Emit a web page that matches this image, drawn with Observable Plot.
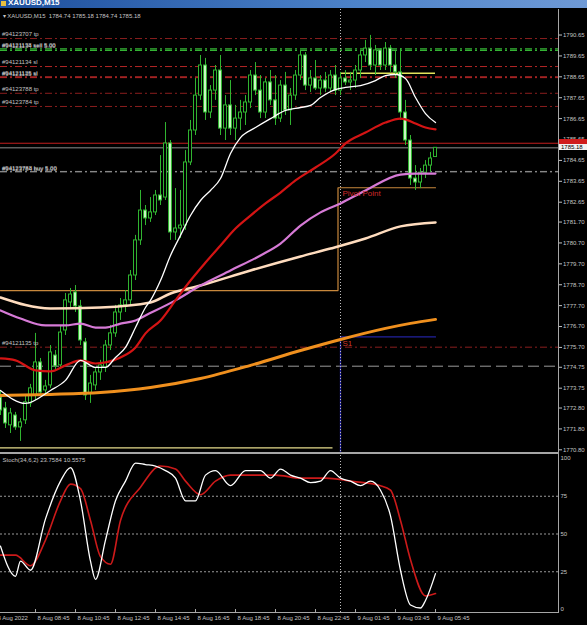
<!DOCTYPE html>
<html><head><meta charset="utf-8">
<script src="https://cdn.jsdelivr.net/npm/d3@7"></script>
<script src="https://cdn.jsdelivr.net/npm/@observablehq/plot@0.6"></script>
<style>
html,body{margin:0;padding:0;background:#000;overflow:hidden;}
#wrap{position:relative;width:587px;height:625px;background:#000;overflow:hidden;font-family:"Liberation Sans",Arial,sans-serif;}
.abs{position:absolute;}
svg{display:block;}
</style></head><body><div id="wrap"></div>
<script>
// ---------- data ----------
const symbolTitle = "XAUUSD,M15";
const infoLine = "\u25BE XAUUSD,M15  1784.74 1785.18 1784.74 1785.18";
const stochLabel = "Stoch(34,6,2) 23.7584 10.5575";

const opens = [1773.23,1772.71,1771.90,1772.37,1771.80,1772.14,1772.95,1773.33,1774.91,1773.57,
1773.81,1775.24,1774.77,1776.44,1777.78,1778.26,1777.59,1775.87,1773.43,1773.81,
1774.43,1774.67,1775.72,1776.30,1777.30,1777.64,1777.88,1779.07,1780.75,1782.18,
1781.80,1782.09,1782.90,1782.80,1785.39,1781.13,1781.32,1781.46,1784.48,1786.01,
1787.68,1789.12,1786.87,1787.92,1788.88,1786.10,1787.21,1786.10,1786.58,1786.87,
1787.35,1788.64,1787.92,1786.87,1788.31,1787.45,1786.58,1788.16,1786.97,1787.68,
1788.64,1789.60,1788.16,1788.50,1788.02,1788.40,1788.02,1788.64,1787.92,1788.50,
1788.31,1788.40,1788.88,1789.60,1789.93,1789.12,1789.84,1789.12,1789.93,1789.12,
1788.79,1786.87,1785.53,1783.71,1783.52,1783.99,1784.33,1784.74];
const highs = [1773.57,1773.00,1772.71,1772.52,1772.23,1773.33,1773.86,1776.30,1775.10,1774.05,
1775.72,1775.48,1776.63,1778.21,1778.45,1778.59,1777.88,1776.06,1774.29,1774.62,
1775.01,1775.96,1776.68,1777.64,1777.97,1778.35,1779.31,1780.99,1783.14,1782.42,
1782.80,1783.14,1784.81,1786.39,1785.53,1783.23,1783.14,1785.05,1786.49,1788.50,
1789.60,1789.46,1788.16,1789.12,1789.60,1787.68,1788.40,1787.21,1787.45,1787.68,
1788.88,1789.26,1788.64,1788.50,1788.88,1788.64,1788.40,1788.79,1788.02,1788.88,
1789.84,1789.74,1788.88,1789.36,1788.64,1788.79,1788.88,1789.12,1788.79,1788.88,
1788.79,1789.12,1789.84,1790.32,1790.56,1790.08,1789.93,1790.22,1790.08,1789.84,
1789.93,1787.45,1785.77,1784.33,1784.19,1784.57,1784.96,1785.18];
const lows = [1772.37,1771.75,1771.51,1771.66,1771.13,1771.94,1772.76,1773.09,1773.33,1773.33,
1773.67,1774.53,1774.62,1776.20,1777.49,1777.30,1775.72,1773.09,1772.95,1773.57,
1774.05,1774.43,1775.48,1776.11,1776.92,1777.30,1777.64,1778.83,1780.51,1781.46,
1781.61,1781.94,1782.42,1782.66,1780.75,1780.75,1780.84,1781.23,1784.33,1785.77,
1787.45,1786.49,1786.58,1787.45,1785.77,1785.53,1785.77,1785.53,1786.01,1786.25,
1787.06,1787.68,1786.58,1786.58,1787.21,1786.25,1786.39,1786.73,1786.25,1787.45,
1788.40,1787.92,1787.83,1787.92,1787.68,1787.83,1787.83,1787.68,1787.68,1788.16,
1787.92,1788.02,1788.50,1789.26,1788.88,1788.64,1788.88,1788.88,1788.79,1788.50,
1786.49,1785.29,1783.38,1783.14,1783.23,1783.71,1784.00,1784.74];
const closes = [1772.61,1771.99,1772.47,1771.80,1772.04,1773.00,1773.67,1774.91,1773.47,1773.76,
1775.39,1774.72,1776.34,1777.88,1778.16,1777.59,1775.96,1773.33,1773.90,1774.43,
1774.77,1775.72,1776.30,1777.30,1777.64,1777.88,1779.07,1780.75,1782.18,1781.80,
1782.09,1782.90,1782.66,1785.39,1781.13,1781.32,1781.46,1784.48,1786.01,1787.68,
1789.12,1786.87,1787.92,1788.88,1786.10,1787.21,1786.10,1786.58,1786.87,1787.35,
1788.64,1787.92,1786.87,1788.31,1787.45,1786.58,1788.16,1786.97,1787.68,1788.64,
1789.60,1788.16,1788.50,1788.02,1788.40,1788.02,1788.64,1787.92,1788.50,1788.31,
1788.40,1788.88,1789.60,1789.93,1789.12,1789.84,1789.12,1789.93,1789.12,1788.79,
1786.87,1785.53,1783.71,1783.52,1783.99,1784.33,1784.67,1785.18];

// moving averages: bar index / price samples
const maWhiteIdx = [0,5,10,13,16,19,21,23,25,27,29,30,32,34,36,38,40,42,44,46,48,51,54,57,60,62,64,67,69,72,75,77,79,81,83,85,87];
const maWhiteVal = [1773.57,1772.95,1773.57,1774.05,1775.01,1774.67,1774.67,1775.15,1775.63,1776.58,1777.54,1777.88,1778.83,1780.03,1780.99,1781.94,1782.66,1783.14,1783.71,1784.91,1785.67,1786.15,1786.58,1786.97,1787.11,1787.21,1787.59,1787.97,1788.07,1788.16,1788.40,1788.64,1788.69,1788.50,1787.59,1786.82,1786.39];
const maRedIdx = [0,3,7,10,13,16,19,21,24,27,29,32,35,38,41,44,47,50,53,56,59,63,67,69,73,77,80,81,83,85,87];
const maRedVal = [1775.10,1775.01,1774.53,1774.48,1774.77,1775.01,1774.86,1774.91,1775.15,1775.63,1776.30,1776.92,1777.88,1778.83,1779.69,1780.51,1781.32,1781.94,1782.52,1783.04,1783.62,1784.24,1784.91,1785.39,1785.91,1786.39,1786.58,1786.54,1786.34,1786.15,1786.06];
const maVioletIdx = [0,4,9,13,16,19,21,24,27,29,35,40,46,52,56,60,64,68,73,80,83,87];
const maVioletVal = [1777.40,1777.01,1776.68,1776.68,1776.77,1776.58,1776.58,1776.77,1776.92,1777.16,1777.88,1778.59,1779.31,1780.03,1780.60,1781.46,1782.09,1782.52,1783.14,1783.90,1783.95,1783.95];
const maPeachIdx = [0,10,20,30,34,40,50,60,66,73,80,87];
const maPeachVal = [1778.02,1777.49,1777.54,1777.78,1778.21,1778.59,1779.31,1779.98,1780.36,1780.84,1781.42,1781.61];
const maOrangeIdx = [0,10,20,30,40,50,60,68,77,82,87];
const maOrangeVal = [1773.33,1773.38,1773.47,1773.71,1774.14,1774.77,1775.48,1776.01,1776.54,1776.78,1776.97];

// stochastic
const stochKIdx = [0,3,4,6,9,12,14,16,18,19,21,23,25,27,29,31,33,35,37,39,41,43,46,49,52,54,56,58,60,62,64,66,68,70,72,74,76,78,80,82,84,85,87];
const stochKVal = [42,22,32,26,60,85,94,72,32,20,46,72,85,97,96,95,92,87,72,72,89,92,82,92,92,87,93,89,87,84,85,92,87,85,82,85,79,62,26,3,1,6,23.76];
const stochDIdx = [0,3,6,9,12,14,16,18,20,22,24,28,32,35,37,40,43,46,50,55,60,65,70,76,78,80,82,85,87];
const stochDVal = [36,36,29,46,72,83,80,59,35,30,59,81,95,93,85,76,85,89,89,89,87,87,85,82,79,59,33,9,10.56];

// order lines
const tpPrices = [1790.41, 1787.79, 1787.16, 1775.64];
const tpLabels = ["#94123707 tp", "#94123788 tp", "#94123784 tp", "#94121135 tp"];
const slPrices = [1789.07, 1788.58, 1788.54];
const slLabels = ["#94121134 sl", "#94121125 sl", "#94121135 sl"];
const sellPrices = [1789.92, 1789.84];
const sellLabels = ["#94121138 sell 5.00", "#94121134 sell 5.00"];
const buyPrices = [1784.05, 1784.03];
const buyLabels = ["#94123788 buy 5.00", "#94123784 buy 5.00"];
const hLinePrice = 1774.73;
const askPrice = 1785.40, bidPrice = 1785.18;
const yellowToday = 1788.75;
const prevLowLine = 1770.82;
const pivotPrev = 1778.35, pivotToday = 1783.27;
const s1Prev = 1768.90, s1Today = 1776.13;
const dayBreakIdx = 68, lastIdx = 87;

const yTicks = [1790.65,1789.65,1788.65,1787.65,1786.65,1785.65,1784.65,1783.65,1782.65,1781.70,1780.70,1779.70,1778.70,1777.70,1776.70,1775.70,1774.75,1773.75,1772.80,1771.80,1770.80];
const stochTicks = [0,25,50,75,100];
const xTickIdx = [-1,7,15,23,31,39,47,55,63,71,79,87];
const xTickLabels = ["8 Aug 2022","8 Aug 08:45","8 Aug 10:45","8 Aug 12:45","8 Aug 14:45","8 Aug 16:45","8 Aug 18:45","8 Aug 20:45","8 Aug 22:45","9 Aug 01:45","9 Aug 03:45","9 Aug 05:45"];

// ---------- build ----------
const candles = opens.map((o,i)=>({i, o, h:highs[i], l:lows[i], c:closes[i]}));
const pts = (idx, val) => idx.map((i,k)=>({i, v:val[k]}));
const labelRows = (p, l) => p.map((v,k)=>({v, t:l[k]}));
const xDomain = [0, 111.6];
const FONT = "'Liberation Sans', Arial, sans-serif";
const GREEN = "#30b430";
const TXT = "#c4c4c4";
const DD = "7,3,2,3";

const main = Plot.plot({
  width:587, height:443, marginTop:0, marginRight:29, marginBottom:0, marginLeft:0,
  style:{background:"transparent", fontFamily:FONT, overflow:"hidden"},
  x:{domain:xDomain, axis:null},
  y:{domain:[1770.60,1791.80], axis:null},
  marks:[
    Plot.ruleY(tpPrices, {stroke:"#8a1e1e", strokeDasharray:DD}),
    Plot.ruleY(slPrices, {stroke:"#b32626", strokeDasharray:DD}),
    Plot.ruleY(sellPrices, {stroke:"#34b434", strokeDasharray:DD, strokeWidth:1.2}),
    Plot.ruleY(buyPrices, {stroke:"#8c8c8c", strokeDasharray:DD}),
    Plot.ruleY([hLinePrice], {stroke:"#9a9a9a", strokeDasharray:"11,5"}),
    Plot.ruleY([askPrice], {stroke:"#c41e1e"}),
    Plot.ruleY([bidPrice], {stroke:"#8e8e8e"}),
    Plot.ruleY([prevLowLine], {x1:0, x2:66.5, stroke:"#e6dc8c", strokeWidth:1.3}),
    Plot.ruleY([yellowToday], {x1:dayBreakIdx, x2:lastIdx, stroke:"#e4e45c", strokeWidth:1.3}),
    Plot.line([{i:0,v:pivotPrev},{i:67.5,v:pivotPrev},{i:67.5,v:pivotToday},{i:lastIdx,v:pivotToday}], {x:"i", y:"v", stroke:"#c8883c", strokeWidth:1.2, clip:true}),
    Plot.line([{i:dayBreakIdx,v:s1Prev},{i:dayBreakIdx,v:s1Today},{i:lastIdx,v:s1Today}], {x:"i", y:"v", stroke:"#22229e", strokeWidth:1.3, clip:true}),
    Plot.ruleX([dayBreakIdx], {stroke:"#bdbdbd", strokeDasharray:"1,2"}),
    Plot.ruleX(candles, {x:"i", y1:"l", y2:"h", stroke:GREEN, clip:true}),
    Plot.rect(candles, {x1:d=>d.i-0.3, x2:d=>d.i+0.3, y1:"o", y2:"c", fill:d=>d.c<d.o?"#c8f6c2":"#000000", stroke:GREEN, strokeWidth:1, clip:true}),
    Plot.line(pts(maOrangeIdx, maOrangeVal), {x:"i", y:"v", stroke:"#f0901e", strokeWidth:3, curve:"monotone-x"}),
    Plot.line(pts(maPeachIdx, maPeachVal), {x:"i", y:"v", stroke:"#ffdcbe", strokeWidth:2.5, curve:"monotone-x"}),
    Plot.line(pts(maVioletIdx, maVioletVal), {x:"i", y:"v", stroke:"#d67ad6", strokeWidth:2.2, curve:"monotone-x"}),
    Plot.line(pts(maRedIdx, maRedVal), {x:"i", y:"v", stroke:"#d41414", strokeWidth:2.2, curve:"monotone-x"}),
    Plot.line(pts(maWhiteIdx, maWhiteVal), {x:"i", y:"v", stroke:"#ffffff", strokeWidth:1.3, curve:"monotone-x"}),
    Plot.text(labelRows(tpPrices, tpLabels), {x:()=>0, y:"v", text:"t", textAnchor:"start", dx:1.5, dy:-4, fill:TXT, fontSize:6}),
    Plot.text(labelRows(slPrices, slLabels), {x:()=>0, y:"v", text:"t", textAnchor:"start", dx:1.5, dy:-4, fill:TXT, fontSize:6}),
    Plot.text(labelRows(sellPrices, sellLabels), {x:()=>0, y:"v", text:"t", textAnchor:"start", dx:1.5, dy:-4, fill:TXT, fontSize:6}),
    Plot.text(labelRows(buyPrices, buyLabels), {x:()=>0, y:"v", text:"t", textAnchor:"start", dx:1.5, dy:-3, fill:TXT, fontSize:6}),
    Plot.text(["Pivot Point"], {x:()=>dayBreakIdx, y:()=>pivotToday, textAnchor:"start", dx:2, dy:6, fill:"#cf2a2a", fontSize:8}),
    Plot.text(["S1"], {x:()=>dayBreakIdx, y:()=>s1Today, textAnchor:"start", dx:2, dy:6, fill:"#cf3a2a", fontSize:8}),
    Plot.text([infoLine], {frameAnchor:"top-left", dx:2, dy:4, fill:TXT, fontSize:6, textAnchor:"start", lineAnchor:"top"}),
    Plot.axisY({anchor:"right", ticks:yTicks, tickFormat:d=>d.toFixed(2), tickSize:3, tickPadding:1.5, color:TXT, fontSize:6, dy:1.5, label:null})
  ]
});

const stoch = Plot.plot({
  width:587, height:170, marginTop:0, marginRight:29, marginBottom:12, marginLeft:0,
  style:{background:"transparent", fontFamily:FONT, overflow:"hidden"},
  x:{domain:xDomain, axis:null},
  y:{domain:[-2.65, 101.99], axis:null},
  marks:[
    Plot.ruleY([25,50,75], {stroke:"#9a9a9a", strokeDasharray:"2,2"}),
    Plot.ruleX([dayBreakIdx], {stroke:"#bdbdbd", strokeDasharray:"1,2"}),
    Plot.line(pts(stochDIdx, stochDVal), {x:"i", y:"v", stroke:"#cc1a1a", strokeWidth:1.6, curve:"monotone-x"}),
    Plot.line(pts(stochKIdx, stochKVal), {x:"i", y:"v", stroke:"#ffffff", strokeWidth:1.3, curve:"monotone-x"}),
    Plot.text([stochLabel], {frameAnchor:"top-left", dx:2, dy:2, fill:TXT, fontSize:6, textAnchor:"start", lineAnchor:"top"}),
    Plot.axisY({anchor:"right", ticks:stochTicks, tickFormat:d=>String(d), tickSize:0, tickPadding:2, color:TXT, fontSize:6, label:null}),
    Plot.axisX({anchor:"bottom", ticks:xTickIdx, tickSize:4, tickFormat:()=> "", dy:-4, color:"#a8a8a8", label:null}),
    Plot.text(xTickIdx.map((i,k)=>({i, t:xTickLabels[k]})), {x:"i", frameAnchor:"bottom", text:"t", textAnchor:"start", dx:2, dy:6, fill:TXT, fontSize:6})
  ]
});

// ---------- assemble ----------
const wrap = document.getElementById("wrap");
function box(css, text){ const d=document.createElement("div"); d.className="abs"; d.style.cssText=css; if(text) d.textContent=text; wrap.appendChild(d); return d; }
box("left:0;top:-3px;width:587px;height:11px;background:linear-gradient(to right,#1d4f9e,#4c82c8 60%,#6f9ad6);color:#fff;font:bold 8px 'Liberation Sans',Arial,sans-serif;line-height:12px;padding-left:8px;box-sizing:border-box;", symbolTitle);
box("left:1px;top:1px;width:5px;height:5px;background:#e8c040;");
main.style.position="absolute"; main.style.left="0px"; main.style.top="9px";
wrap.appendChild(main);
stoch.style.position="absolute"; stoch.style.left="0px"; stoch.style.top="455px";
wrap.appendChild(stoch);
// panel borders
box("left:558px;top:9px;width:1px;height:604px;background:#a6a6a6;");
box("left:0;top:452px;width:559px;height:2px;background:#a6a6a6;");
box("left:0;top:612px;width:559px;height:1px;background:#a6a6a6;");
// price boxes on the right scale
const ys = main.scale("y");
const askY = 9 + ys.apply(askPrice), bidY = 9 + ys.apply(bidPrice);
box(`left:559px;top:${askY-3.5}px;width:28px;height:6px;background:#d01c1c;`);
box(`left:559px;top:${bidY-3}px;width:28px;height:6px;background:#f2f2f2;color:#000;font:6px 'Liberation Sans',Arial,sans-serif;line-height:6px;padding-left:2px;box-sizing:border-box;`, bidPrice.toFixed(2));
</script></body></html>
